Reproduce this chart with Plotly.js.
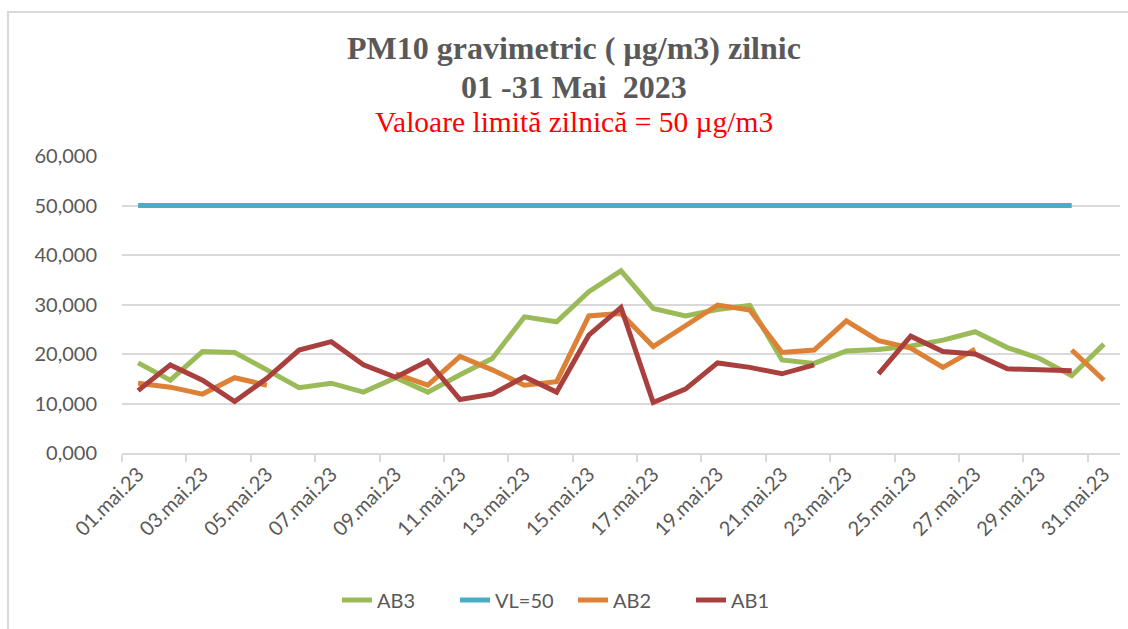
<!DOCTYPE html>
<html>
<head>
<meta charset="utf-8">
<script src="https://cdn.plot.ly/plotly-3.0.1.min.js"></script>
<style>
  html, body { margin: 0; padding: 0; background: #ffffff; }
  #wrap { position: relative; width: 1128px; height: 629px; overflow: hidden; }
  #chart { position: absolute; left: 0; top: 0; width: 1128px; height: 629px; }
  #frame { position: absolute; left: 7px; top: 11px; width: 1200px; height: 700px;
           border-left: 2px solid #d9d9d9; border-top: 2px solid #d9d9d9; pointer-events: none; }
</style>
</head>
<body>
<div id="wrap">
  <div id="chart"></div>
  <div id="frame"></div>
</div>
<script>
// Categories (days of May 2023)
const days = [
  "01.mai.23","02.mai.23","03.mai.23","04.mai.23","05.mai.23","06.mai.23","07.mai.23","08.mai.23",
  "09.mai.23","10.mai.23","11.mai.23","12.mai.23","13.mai.23","14.mai.23","15.mai.23","16.mai.23",
  "17.mai.23","18.mai.23","19.mai.23","20.mai.23","21.mai.23","22.mai.23","23.mai.23","24.mai.23",
  "25.mai.23","26.mai.23","27.mai.23","28.mai.23","29.mai.23","30.mai.23","31.mai.23"
];

// PM10 daily values (µg/m3)
const ab3 = [18.2,14.7,20.5,20.3,16.8,13.2,14.1,12.3,15.2,12.3,15.8,19.1,27.5,26.5,32.6,36.8,
             29.2,27.7,29.0,29.8,18.8,18.1,20.6,20.9,21.6,22.8,24.5,21.3,19.1,15.6,22.0];
const vl50 = [50,50,50,50,50,50,50,50,50,50,50,50,50,50,50,50,
              50,50,50,50,50,50,50,50,50,50,50,50,50,50,null];
const ab2 = [14.1,13.3,11.9,15.2,13.7,null,null,null,16.0,13.7,19.5,16.8,13.7,14.4,27.7,28.2,
             21.5,25.7,29.9,28.9,20.3,20.8,26.7,22.7,21.2,17.3,21.0,null,null,20.8,14.7];
const ab1 = [12.6,17.8,14.7,10.4,15.1,20.8,22.5,17.8,15.3,18.6,10.8,11.9,15.4,12.3,23.8,29.4,
             10.2,12.9,18.2,17.3,16.0,17.8,null,16.0,23.6,20.5,20.0,17.0,16.8,16.6,null];

const seriesNames = ["AB3", "VL=50", "AB2", "AB1"];
const seriesColors = ["#9BBB59", "#4BACC6", "#DD8136", "#A9403E"];
const seriesData = [ab3, vl50, ab2, ab1];

const titleLines = ["PM10 gravimetric ( µg/m3) zilnic", "01 -31 Mai \u00A02023"];
const subtitle = "Valoare limită zilnică = 50 µg/m3";

const traces = seriesData.map((vals, i) => ({
  type: "scatter",
  mode: "lines",
  name: seriesNames[i],
  x: days,
  y: vals,
  connectgaps: false,
  line: { color: seriesColors[i], width: 5, shape: "linear" },
  hoverinfo: "x+y+name"
}));

const axisFont = { family: "Lato, 'Open Sans', sans-serif", size: 20, color: "#595959" };
const serif = "'Liberation Serif', 'Times New Roman', serif";

// plot area: 156px (top) .. 453px (bottom), 122px .. 1120px
const pxToPaperY = p => (453 - p) / 297;
const pxToPaperX = p => (p - 122) / 998;

const layout = {
  width: 1128,
  height: 629,
  paper_bgcolor: "#ffffff",
  plot_bgcolor: "#ffffff",
  separators: ",.",
  margin: { l: 122, r: 8, t: 156, b: 176, pad: 0 },
  annotations: [
    { text: "<b>" + titleLines[0] + "</b>", xref: "paper", yref: "paper",
      x: pxToPaperX(574), y: pxToPaperY(48), xanchor: "center", yanchor: "middle",
      showarrow: false, font: { family: serif, size: 32, color: "#595959" } },
    { text: "<b>" + titleLines[1] + "</b>", xref: "paper", yref: "paper",
      x: pxToPaperX(574), y: pxToPaperY(87), xanchor: "center", yanchor: "middle",
      showarrow: false, font: { family: serif, size: 32, color: "#595959" } },
    { text: subtitle, xref: "paper", yref: "paper",
      x: pxToPaperX(574), y: pxToPaperY(122), xanchor: "center", yanchor: "middle",
      showarrow: false, font: { family: serif, size: 29.5, color: "#FF0000" } }
  ],
  xaxis: {
    type: "category",
    range: [-0.5, 30.5],
    tickangle: -45,
    dtick: 2,
    tickson: "boundaries",
    ticks: "outside",
    ticklen: 7,
    tickwidth: 1.5,
    tickcolor: "#d9d9d9",
    showgrid: false,
    showline: true,
    linecolor: "#d9d9d9",
    linewidth: 1.5,
    zeroline: false,
    tickfont: axisFont,
    fixedrange: true
  },
  yaxis: {
    range: [0, 60],
    tickvals: [0, 10, 20, 30, 40, 50, 60],
    tickformat: ".3f",
    showgrid: true,
    gridcolor: "#d9d9d9",
    gridwidth: 1.5,
    zeroline: false,
    showline: false,
    ticks: "",
    ticklabelstandoff: 24,
    tickfont: axisFont,
    fixedrange: true
  },
  showlegend: true,
  legend: {
    orientation: "h",
    xref: "container", x: 573 / 1128, xanchor: "center",
    yref: "container", y: (629 - 600) / 629, yanchor: "middle",
    font: axisFont,
    entrywidthmode: "pixels",
    entrywidth: 73,
    tracegroupgap: 0,
    bgcolor: "rgba(0,0,0,0)"
  },
  hovermode: "closest"
};

Plotly.newPlot("chart", traces, layout, { displayModeBar: false, responsive: false });
</script>
</body>
</html>
